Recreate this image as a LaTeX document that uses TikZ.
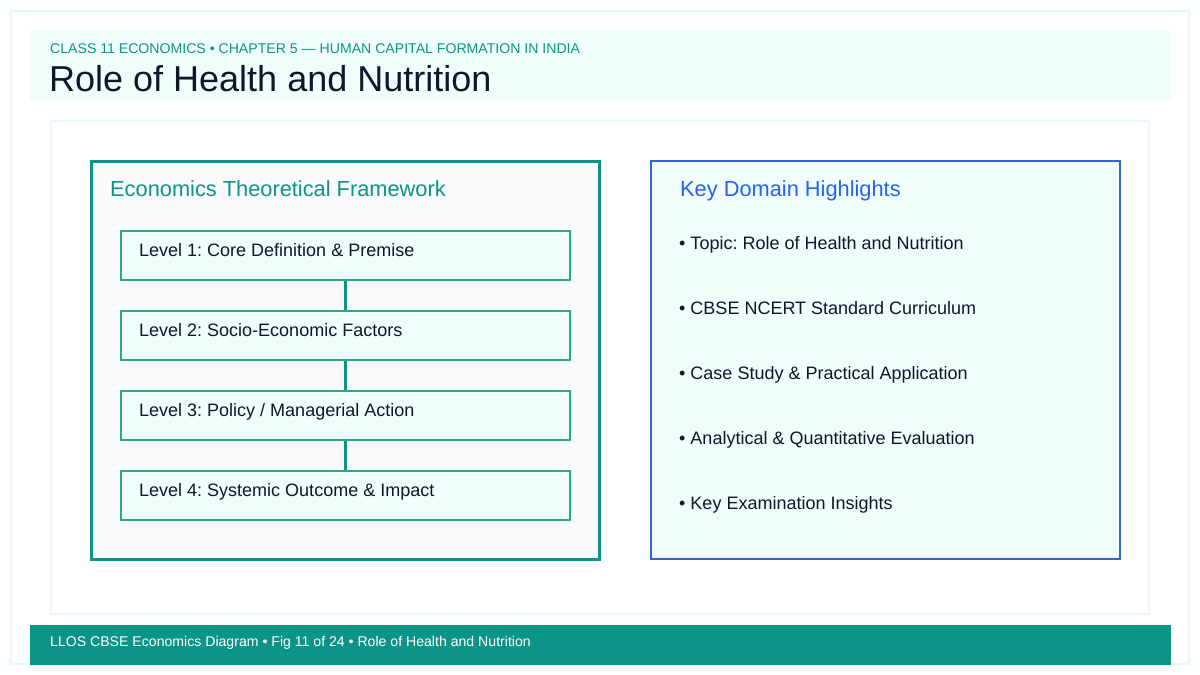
\documentclass[tikz,border=0pt]{standalone}
\usepackage{fontspec}
\setmainfont{Liberation Sans}
\usetikzlibrary{positioning}
\definecolor{teal}{HTML}{0D9488}
\definecolor{tealline}{HTML}{26AA88}
\definecolor{mint}{HTML}{F0FDFA}
\definecolor{slatebg}{HTML}{F8FAFC}
\definecolor{ink}{HTML}{0F172A}
\definecolor{royal}{HTML}{2563EB}
\definecolor{royalline}{HTML}{3366CC}
\definecolor{faint}{HTML}{E8F8F5}

\begin{document}
\frenchspacing
\begin{tikzpicture}[x=1pt,y=-1pt,node distance=80pt,on grid,
  level/.style={draw=tealline,line width=2pt,fill=mint,minimum width=449pt,minimum height=49pt,inner sep=0pt},
  lvltext/.style={anchor=base west,text=ink,inner sep=0pt,font=\fontsize{18}{20}\selectfont},
  bullet/.style={anchor=base west,text=ink,inner sep=0pt,font=\fontsize{18}{20}\selectfont},
  heading/.style={anchor=base west,inner sep=0pt,font=\fontsize{21.8}{24}\selectfont}]
\useasboundingbox (0,0) rectangle (1200,675);
\fill[white] (0,0) rectangle (1200,675);
\draw[faint,line width=2pt] (11,11) rectangle (1189,664);
% header
\fill[mint] (30,30) rectangle (1171,101);
\node[anchor=base west,text=teal,font=\fontsize{14.1}{16}\selectfont,inner sep=0pt] (sub) at (50,53) {CLASS 11 ECONOMICS • CHAPTER 5 — HUMAN CAPITAL FORMATION IN INDIA};
\node[anchor=base west,text=ink,font=\fontsize{36}{40}\selectfont,inner sep=0pt] (title) at (49,91) {Role of Health and Nutrition};
% content panel
\draw[faint,line width=1.5pt,fill=white] (51,121) rectangle (1149,614);
% left box
\draw[teal,line width=3pt,fill=slatebg] (91,161) rectangle (599,559);
\node[heading,text=teal] (lefthead) at (110,196.5) {Economics Theoretical Framework};
\node[level] (l_1) at (345.5,255.5) {};
\node[level] (l_2) [below=of l_1] {};
\node[level] (l_3) [below=of l_2] {};
\node[level] (l_4) [below=of l_3] {};
\draw[teal,line width=3pt] (l_1.south) -- (l_2.north)
  (l_2.south) -- (l_3.north)
  (l_3.south) -- (l_4.north);
\node[lvltext] at ([xshift=19pt,yshift=-1pt]l_1.west) {Level 1: Core Definition \& Premise};
\node[lvltext] at ([xshift=19pt,yshift=-1pt]l_2.west) {Level 2: Socio-Economic Factors};
\node[lvltext] at ([xshift=19pt,yshift=-1pt]l_3.west) {Level 3: Policy / Managerial Action};
\node[lvltext] at ([xshift=19pt,yshift=-1pt]l_4.west) {Level 4: Systemic Outcome \& Impact};
% right box
\draw[royalline,line width=2pt,fill=mint] (651,161) rectangle (1120,559);
\node[heading,text=royal] (righthead) at (680,196.5) {Key Domain Highlights};
\node[bullet] (b_1) at (679,249) {• Topic: Role of Health and Nutrition};
\node[bullet] (b_2) at (679,314) {• CBSE NCERT Standard Curriculum};
\node[bullet] (b_3) at (679,379) {• Case Study \& Practical Application};
\node[bullet] (b_4) at (679,444) {• Analytical \& Quantitative Evaluation};
\node[bullet] (b_5) at (679,509) {• Key Examination Insights};
% footer
\fill[teal] (30,625) rectangle (1171,665);
\node[anchor=base west,text=white,font=\fontsize{14.1}{16}\selectfont,inner sep=0pt] (foot) at (50,646) {LLOS CBSE Economics Diagram • Fig 11 of 24 • Role of Health and Nutrition};
\end{tikzpicture}
\end{document}
